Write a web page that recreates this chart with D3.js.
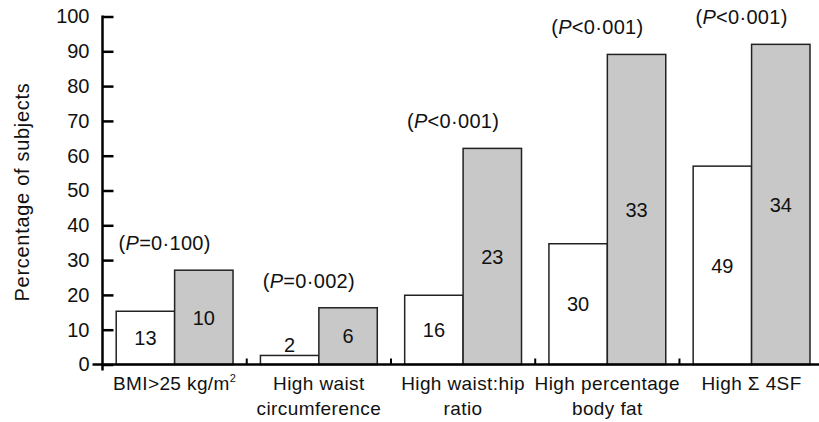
<!DOCTYPE html>
<html><head><meta charset="utf-8">
<script src="https://cdn.jsdelivr.net/npm/d3@7"></script>
<style>body{margin:0;background:#fff;} text{font-family:"Liberation Sans",Arial,sans-serif;fill:#111;}</style>
</head><body><svg id="c" width="819" height="422"></svg>
<script>
const categories = [["BMI>25 kg/m", "2"], ["High waist", "circumference"], ["High waist:hip", "ratio"], ["High percentage", "body fat"], ["High \u03A3 4SF"]];
const whiteValues = [15.3, 2.6, 19.9, 34.7, 57.0];
const grayValues = [27.1, 16.3, 62.1, 89.1, 92.0];
const whiteCounts = [13, 2, 16, 30, 49];
const grayCounts = [10, 6, 23, 33, 34];
const pLabels = [["=", "0\u00B7100"], ["=", "0\u00B7002"], ["<", "0\u00B7001"], ["<", "0\u00B7001"], ["<", "0\u00B7001"]];
const yTicks = [0, 10, 20, 30, 40, 50, 60, 70, 80, 90, 100];

const svg = d3.select("#c");
const y = d3.scaleLinear().domain([0, 100]).range([364.5, 16.5]);
const x = d3.scaleBand().domain(d3.range(categories.length)).range([102.5, 823.7]).paddingInner(0.19).paddingOuter(0.095);
const bw = x.bandwidth() / 2;

const g = svg.append("g");
categories.forEach((c, i) => {
  const x0 = x(i);
  g.append("rect").attr("x", x0).attr("y", y(whiteValues[i])).attr("width", bw).attr("height", y(0) - y(whiteValues[i]))
    .attr("fill", "#fff").attr("stroke", "#222").attr("stroke-width", 1.5);
  g.append("rect").attr("x", x0 + bw).attr("y", y(grayValues[i])).attr("width", bw).attr("height", y(0) - y(grayValues[i]))
    .attr("fill", "#c8c8c8").attr("stroke", "#222").attr("stroke-width", 1.5);
  const wMid = (y(whiteValues[i]) + y(0)) / 2;
  const wy = (y(0) - y(whiteValues[i]) < 25) ? y(whiteValues[i]) - 11 : wMid;
  g.append("text").attr("x", x0 + bw / 2).attr("y", wy).attr("dy", "0.36em").attr("text-anchor", "middle")
    .style("font-size", "20px").text(whiteCounts[i]);
  g.append("text").attr("x", x0 + bw * 1.5).attr("y", (y(grayValues[i]) + y(0)) / 2).attr("dy", "0.36em").attr("text-anchor", "middle")
    .style("font-size", "20px").text(grayCounts[i]);
  const t = g.append("text").attr("x", x0 + bw - 10).attr("y", y(grayValues[i]) - 20).attr("text-anchor", "middle")
    .style("font-size", "20px").style("letter-spacing", "0.3px");
  t.append("tspan").text("(");
  t.append("tspan").style("font-style", "italic").text("P");
  t.append("tspan").text(pLabels[i][0] + pLabels[i][1] + ")");
  const ct = g.append("text").attr("x", x0 + bw).attr("y", 390).attr("text-anchor", "middle").style("font-size", "19px").style("letter-spacing", "0.4px");
  if (c.length === 2 && c[1] === "2") {
    ct.append("tspan").text(c[0]);
    ct.append("tspan").attr("dy", -8).style("font-size", "11px").text(c[1]);
  } else {
    c.forEach((line, k) => ct.append("tspan").attr("x", x0 + bw).attr("dy", k === 0 ? 0 : 25).text(line));
  }
});

const yAxis = d3.axisLeft(y).tickValues(yTicks).tickSize(-11).tickPadding(13);
const ya = svg.append("g").attr("transform", "translate(102.5,0)").call(yAxis);
ya.select(".domain").remove();
ya.selectAll(".tick line").attr("stroke", "#000").attr("stroke-width", 2.5);
ya.selectAll(".tick text").style("font-size", "20px").attr("fill", "#111");
svg.append("line").attr("x1", 102.5).attr("x2", 102.5).attr("y1", y(100) - 1).attr("y2", y(0) + 6).attr("stroke", "#000").attr("stroke-width", 2.5);

svg.append("line").attr("x1", 92.5).attr("x2", 819).attr("y1", y(0)).attr("y2", y(0)).attr("stroke", "#000").attr("stroke-width", 2.5);
d3.range(1, categories.length).forEach(i => {
  const sx = x(i) - x.step() * x.paddingInner() / 2;
  svg.append("line").attr("x1", sx).attr("x2", sx).attr("y1", y(0)).attr("y2", y(0) - 6).attr("stroke", "#000").attr("stroke-width", 2);
});

svg.append("text").attr("transform", "translate(29,192) rotate(-90)").attr("text-anchor", "middle").style("font-size", "20px").style("letter-spacing", "0.7px").text("Percentage of subjects");
</script></body></html>
